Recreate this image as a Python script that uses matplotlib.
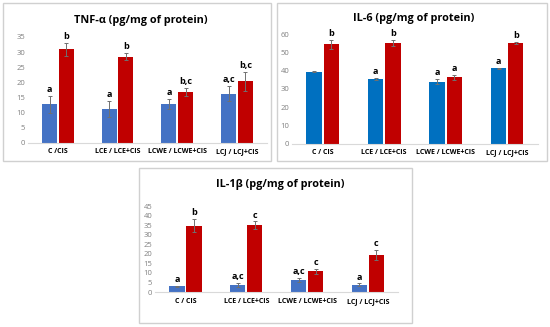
import numpy as np
import matplotlib.pyplot as plt
from matplotlib.patches import Rectangle

categories = ['C /CIS', 'LCE / LCE+CIS', 'LCWE / LCWE+CIS', 'LCJ / LCJ+CIS']
categories_il6 = ['C / CIS', 'LCE / LCE+CIS', 'LCWE / LCWE+CIS', 'LCJ / LCJ+CIS']

# TNF-alpha
tnf_ctrl = [12.7, 11.3, 12.8, 16.3]
tnf_ctrl_err = [2.7, 2.6, 1.7, 2.5]
tnf_cis = [30.9, 28.5, 16.9, 20.3]
tnf_cis_err = [2.1, 1.2, 1.3, 3.2]
tnf_ctrl_lbl = ['a', 'a', 'a', 'a,c']
tnf_cis_lbl = ['b', 'b', 'b,c', 'b,c']

# IL-6
il6_ctrl = [39.5, 35.3, 34.0, 41.3]
il6_ctrl_err = [0.5, 0.6, 1.4, 0.3]
il6_cis = [54.3, 55.0, 36.3, 55.0]
il6_cis_err = [2.5, 1.5, 1.2, 0.6]
il6_ctrl_lbl = ['', 'a', 'a', 'a']
il6_cis_lbl = ['b', 'b', 'a', 'b']

# IL-1beta
il1_ctrl = [3.0, 3.8, 6.3, 3.8]
il1_ctrl_err = [0.3, 1.0, 1.2, 0.7]
il1_cis = [34.8, 35.0, 10.8, 19.5]
il1_cis_err = [3.5, 2.0, 1.5, 2.5]
il1_ctrl_lbl = ['a', 'a,c', 'a,c', 'a']
il1_cis_lbl = ['b', 'c', 'c', 'c']

plt.rcParams['font.family'] = ['Open Sans', 'DejaVu Sans']

fig = plt.figure(figsize=(5.5, 3.27), dpi=100)

# light grey frames around each panel
for x0, y0, w, h in [(3, 3, 268, 158), (277, 3, 270, 158), (139, 168, 273, 155)]:
    fig.patches.append(Rectangle((x0 / 550, 1 - (y0 + h) / 327), w / 550, h / 327,
                                 transform=fig.transFigure, fill=False,
                                 edgecolor='#d0d0d0', linewidth=1))


def panel(rect, title, title_y, title_x, cats, ctrl, ctrl_err, cis, cis_err,
          ctrl_lbl, cis_lbl, ymax, ystep, blue):
    ax = fig.add_axes(rect)
    x = np.arange(len(cats))
    w = 0.25
    off = 0.14
    ekw = dict(ecolor='#707070', elinewidth=0.7, capsize=1.5, capthick=0.7)
    ax.bar(x - off, ctrl, w, color=blue, yerr=ctrl_err, error_kw=ekw)
    ax.bar(x + off, cis, w, color='#C00000', yerr=cis_err, error_kw=ekw)
    for i in range(len(cats)):
        if ctrl_lbl[i]:
            ax.text(x[i] - off, ctrl[i] + ctrl_err[i] + ymax * 0.02, ctrl_lbl[i],
                    ha='center', va='bottom', fontsize=6.5, fontweight='bold')
        if cis_lbl[i]:
            ax.text(x[i] + off, cis[i] + cis_err[i] + ymax * 0.02, cis_lbl[i],
                    ha='center', va='bottom', fontsize=6.5, fontweight='bold')
    ax.set_xlim(-0.5, len(cats) - 0.5)
    ax.set_ylim(0, ymax)
    ax.set_yticks(np.arange(0, ymax + 1, ystep))
    ax.set_xticks(x)
    ax.set_xticklabels(cats, fontsize=5, fontweight='bold')
    ax.tick_params(axis='y', labelsize=5.5, labelcolor='#808080', length=0, pad=2)
    ax.tick_params(axis='x', length=0, pad=4)
    for s in ['top', 'right', 'left']:
        ax.spines[s].set_visible(False)
    ax.spines['bottom'].set_color('#d9d9d9')
    ax.spines['bottom'].set_linewidth(0.8)
    fig.text(title_x, title_y, title, ha='center', va='center',
             fontsize=7.8, fontweight='bold')
    return ax


panel([0.051, 0.563, 0.434, 0.324], 'TNF-α (pg/mg of protein)', 0.937, 0.255,
      categories, tnf_ctrl, tnf_ctrl_err, tnf_cis, tnf_cis_err,
      tnf_ctrl_lbl, tnf_cis_lbl, 35, 5, '#4472C4')
panel([0.531, 0.560, 0.447, 0.336], 'IL-6 (pg/mg of protein)', 0.943, 0.752,
      categories_il6, il6_ctrl, il6_ctrl_err, il6_cis, il6_cis_err,
      il6_ctrl_lbl, il6_cis_lbl, 60, 10, '#0070C0')
panel([0.282, 0.107, 0.442, 0.263], 'IL-1β (pg/mg of protein)', 0.437, 0.51,
      categories_il6, il1_ctrl, il1_ctrl_err, il1_cis, il1_cis_err,
      il1_ctrl_lbl, il1_cis_lbl, 45, 5, '#4472C4')

fig.savefig('out.png', dpi=100)
